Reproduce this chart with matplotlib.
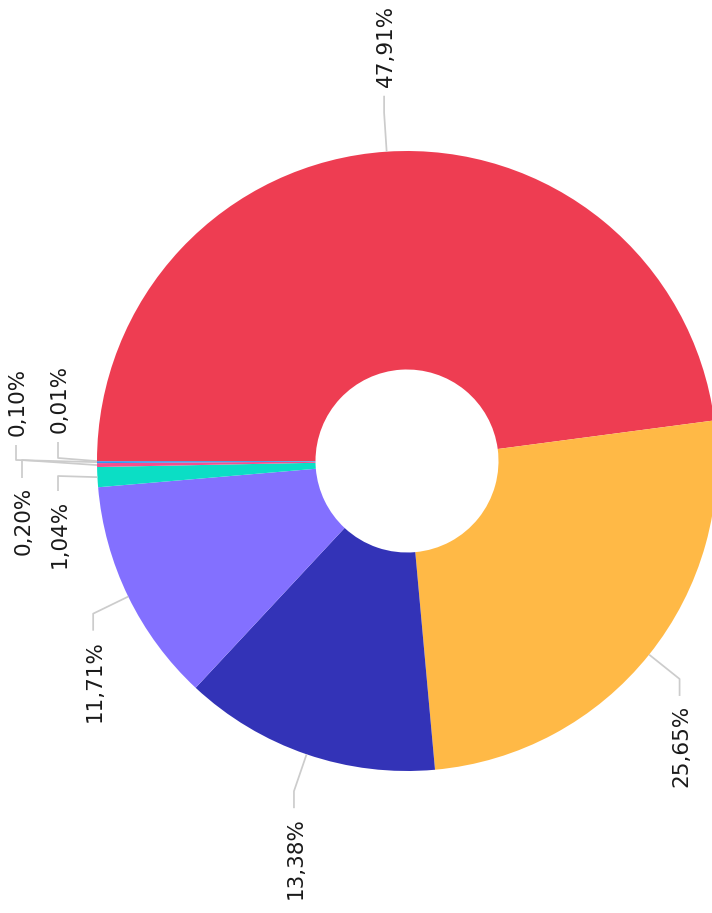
import numpy as np
import matplotlib.pyplot as plt

# slice values (percent) and their labels, clockwise from 9 o'clock
values = [47.91, 25.65, 13.38, 11.71, 1.04, 0.20, 0.10, 0.01]
labels = ['47,91%', '25,65%', '13,38%', '11,71%', '1,04%', '0,20%', '0,10%', '0,01%']
colors = ['#EE3D52', '#FFB946', '#3333B7', '#8370FF', '#0BDEC5', '#F54E8E', '#2D9BF0', '#9B59B6']

W, H = 712, 913
fig = plt.figure(figsize=(W / 100, H / 100), dpi=100)
ax = fig.add_axes([0, 0, 1, 1])

# geometry in pixels (y measured upward)
cx, cy = 407, H - 461
R, r_in = 310, 91.5
seg1, seg2, gap = 39, 17, 9

wedges, _ = ax.pie(values, colors=colors, startangle=180, counterclock=False,
                   center=(cx, cy), radius=R, frame=True,
                   wedgeprops=dict(width=R - r_in, linewidth=0))

# crowded small slices: elbow offsets from the centre and vertical leg (+ up / - down)
manual = {
    '1,04%': (-349, -15, -15),
    '0,20%': (-385, 1, -18),
    '0,10%': (-391, 1, 15),
    '0,01%': (-349, 3, 16),
}

line_kw = dict(color='#cccccc', lw=1.25, solid_capstyle='butt', zorder=1)
for w, lab in zip(wedges, labels):
    th = np.deg2rad((w.theta1 + w.theta2) / 2)
    u = np.array([np.cos(th), np.sin(th)])
    p0 = np.array([cx, cy]) + R * u
    if lab in manual:
        dx, dy, leg = manual[lab]
        p1 = np.array([cx + dx, cy + dy])
    else:
        p1 = np.array([cx, cy]) + (R + seg1) * u
        leg = seg2 if u[1] > 0 else -seg2
    p2 = p1 + np.array([0, leg])
    ax.plot([p0[0], p1[0], p2[0]], [p0[1], p1[1], p2[1]], **line_kw)
    up = leg > 0
    ty = p2[1] + (gap if up else -gap)
    ax.text(p2[0] + 2, ty, lab, rotation=90, rotation_mode='anchor',
            ha='left' if up else 'right', va='center',
            fontsize=15.5, color='#1a1a1a')

ax.set_xlim(0, W)
ax.set_ylim(0, H)
ax.set_aspect('equal')
ax.axis('off')

fig.savefig('out.png', dpi=100)
